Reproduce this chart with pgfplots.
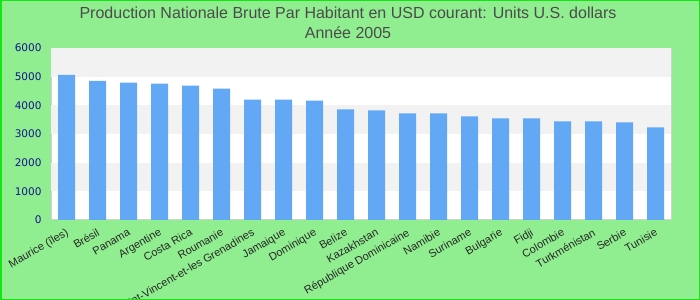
\documentclass[border=0pt]{standalone}
\usepackage{pgfplots}
\pgfplotsset{compat=1.18}
\usepackage{fontspec}
\setmainfont{Liberation Sans}
\newfontfamily\dejavu{DejaVu Sans}
\definecolor{bgreen}{RGB}{144,238,144}
\definecolor{bordergreen}{RGB}{20,230,20}
\definecolor{barblue}{RGB}{98,168,245}
\definecolor{band}{RGB}{242,242,242}
\definecolor{tickblue}{RGB}{20,20,140}
\definecolor{titlegray}{RGB}{75,75,75}
\begin{document}
\begin{tikzpicture}
\useasboundingbox (0,0) rectangle (700bp,300bp);
\clip (0,0) rectangle (700bp,300bp);
\fill[bgreen] (0,0) rectangle (700bp,300bp);
\node[text=titlegray, font=\fontsize{16bp}{18bp}\selectfont] at (348bp,287bp) {Production Nationale Brute Par Habitant en USD courant: Units U.S. dollars};
\node[text=titlegray, font=\fontsize{16bp}{18bp}\selectfont] at (348bp,267bp) {Année 2005};
\begin{axis}[
  at={(51bp,80bp)}, anchor=south west,
  width=620bp, height=172bp, scale only axis,
  xmin=-0.5, xmax=19.5, ymin=0, ymax=6000,
  axis background/.style={fill=white},
  axis line style={draw=black!18, line width=1bp},
  ytick={0,1000,...,6000},
  yticklabel style={text=tickblue, font=\dejavu\fontsize{10.5bp}{12bp}\selectfont, xshift=-6bp},
  /pgf/number format/assume math mode=true,
  /pgf/number format/1000 sep={},
  major tick length=0pt,
  xtick={0,...,19},
  xticklabels={Maurice (îles),Brésil,Panama,Argentine,Costa Rica,Roumanie,Saint-Vincent-et-les Grenadines,Jamaique,Dominique,Belize,Kazakhstan,République Dominicaine,Namibie,Suriname,Bulgarie,Fidji,Colombie,Turkménistan,Serbie,Tunisie},
  xticklabel style={rotate=30, anchor=north east, font=\fontsize{11bp}{13bp}\selectfont, text=black!85, inner sep=0pt, xshift=-5bp, yshift=-6bp},
  ybar, bar width=17bp,
]
\fill[band] (axis cs:-0.5,5000) rectangle (axis cs:19.5,6000);
\fill[band] (axis cs:-0.5,3000) rectangle (axis cs:19.5,4000);
\fill[band] (axis cs:-0.5,1000) rectangle (axis cs:19.5,2000);
\addplot[fill=barblue, draw=none] coordinates {
(0,5060) (1,4850) (2,4790) (3,4755) (4,4685) (5,4580) (6,4200) (7,4200) (8,4165) (9,3860)
(10,3825) (11,3720) (12,3720) (13,3615) (14,3545) (15,3545) (16,3440) (17,3440) (18,3405) (19,3230)};
\end{axis}
\draw[bordergreen, line width=1.5bp] (0.75bp,0.75bp) rectangle (699.25bp,299.25bp);
\end{tikzpicture}
\end{document}
